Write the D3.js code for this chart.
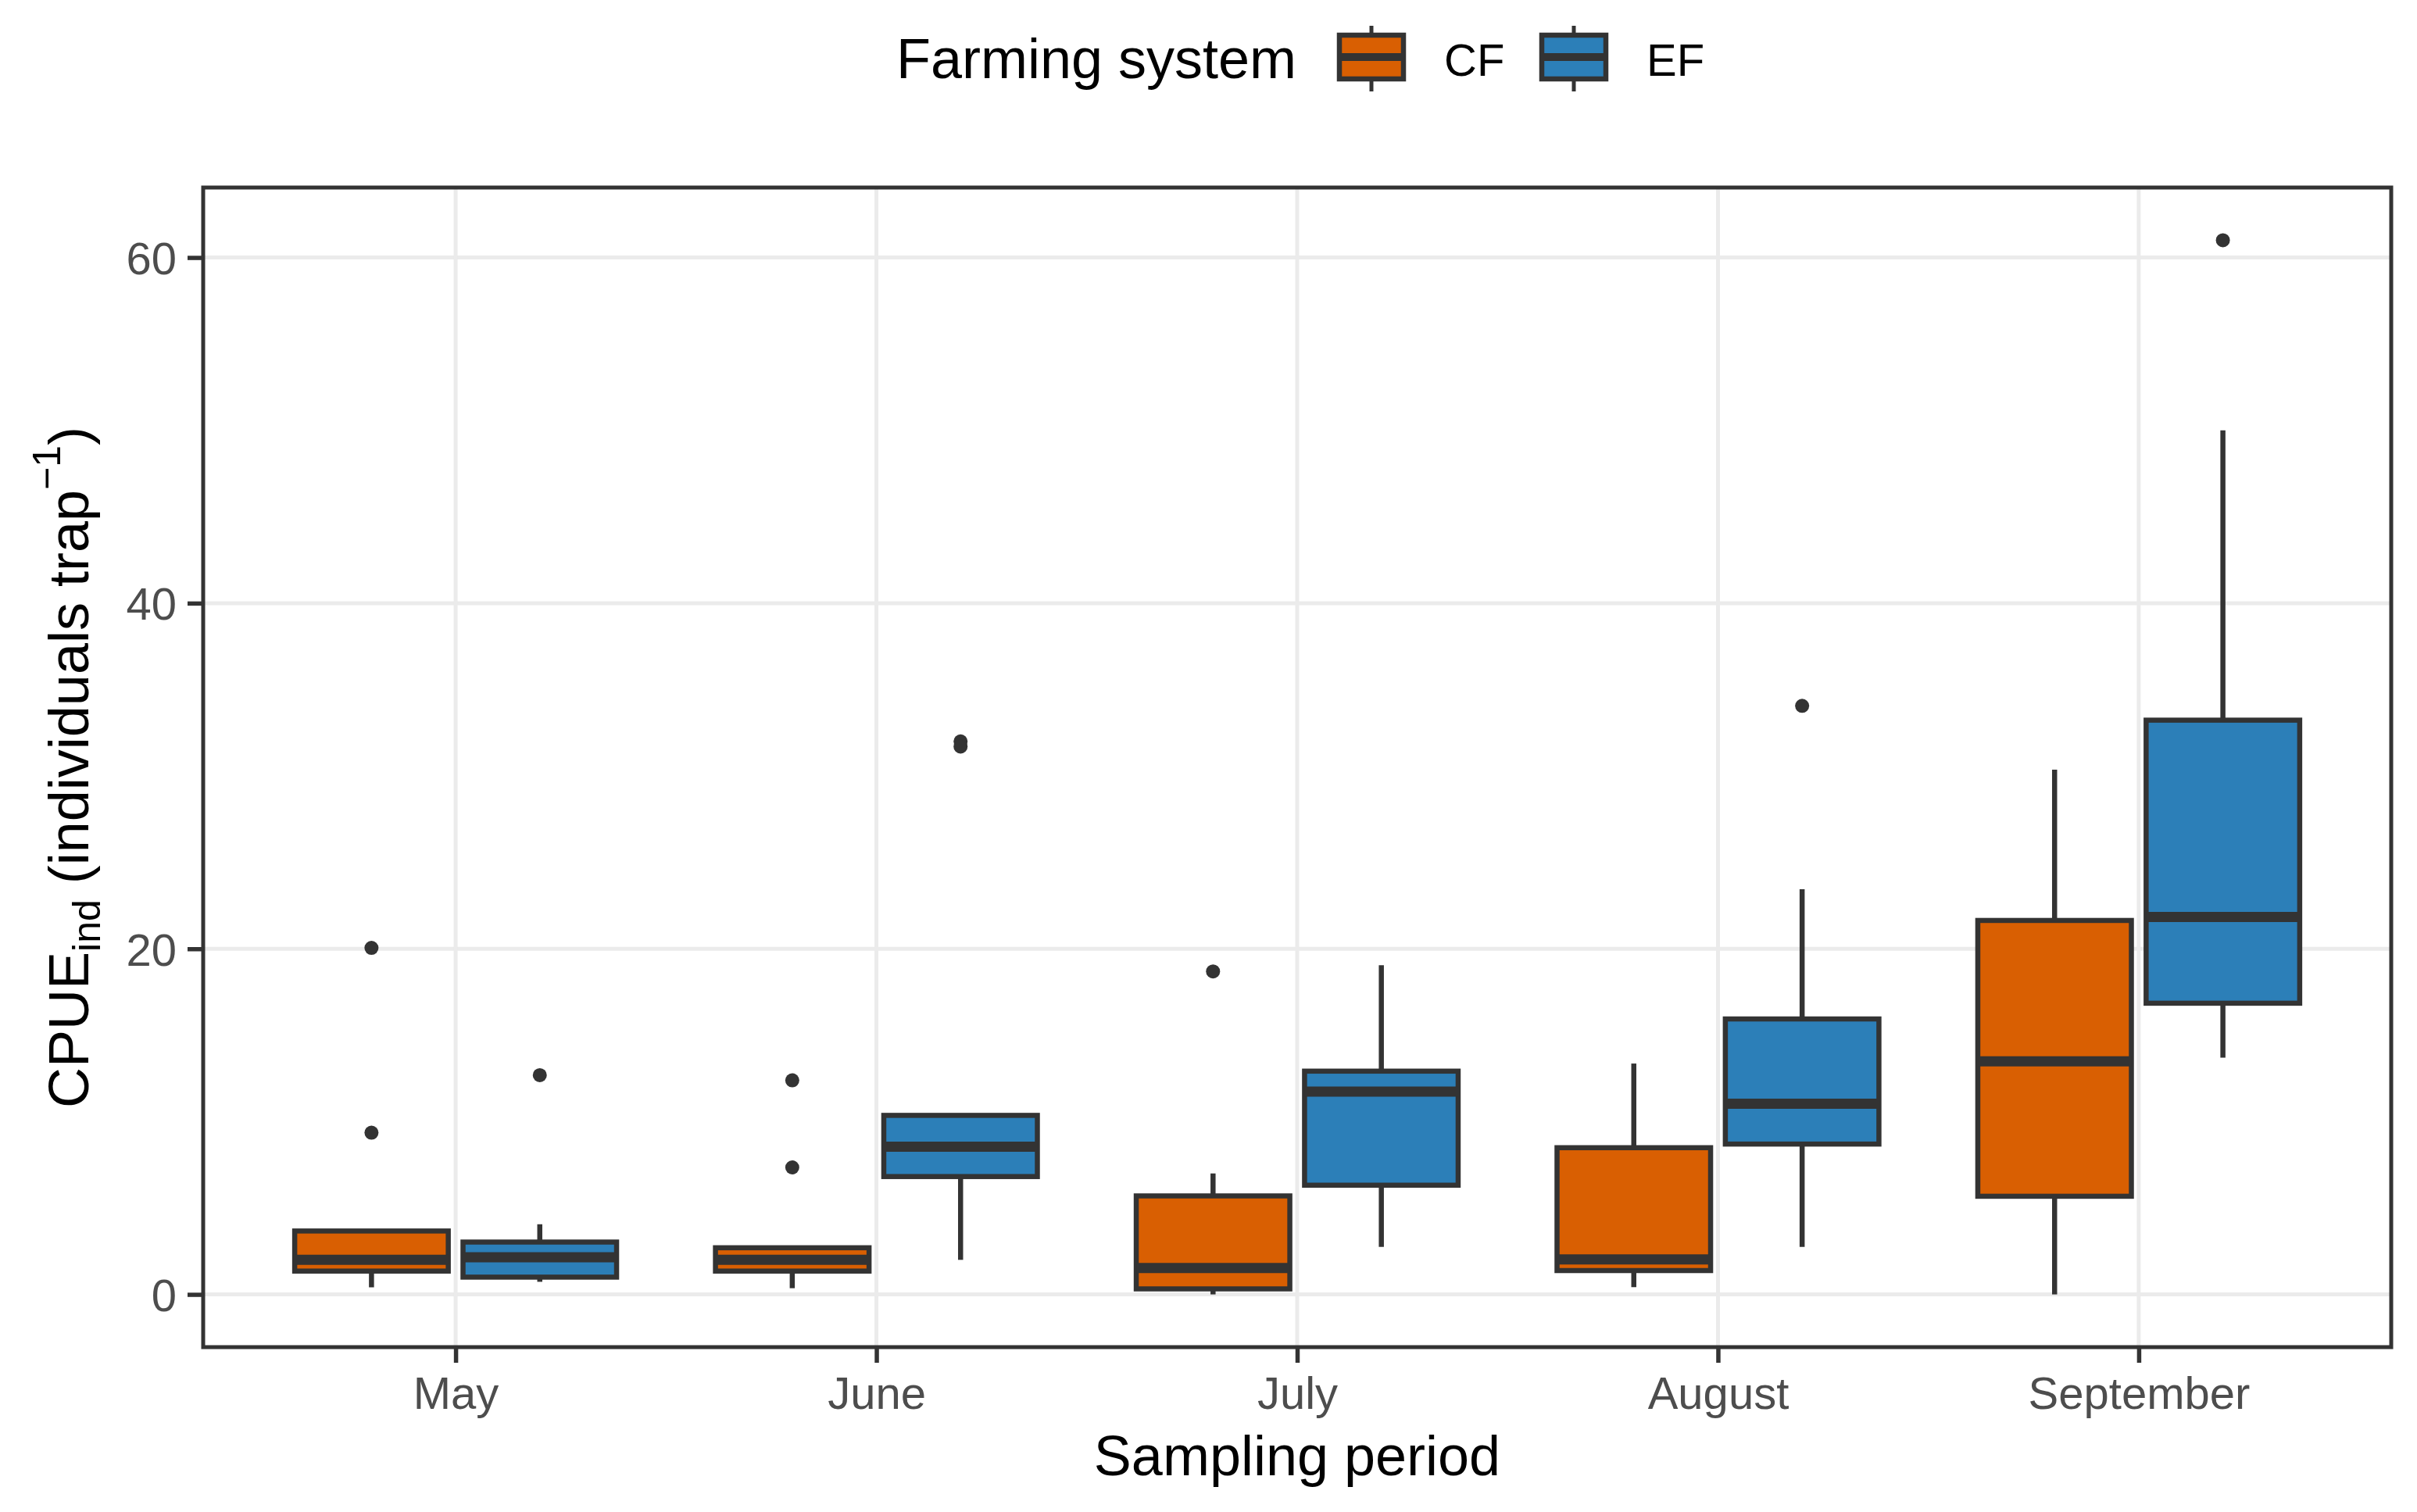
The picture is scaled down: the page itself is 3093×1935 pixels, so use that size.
<!DOCTYPE html>
<html>
<head>
<meta charset="utf-8">
<script src="https://cdn.jsdelivr.net/npm/d3@7"></script>
<style>
  body { margin: 0; background: #fff; }
  svg { display: block; font-family: "Liberation Sans", Arial, sans-serif; }
</style>
</head>
<body>
<div class="visHolder"></div>
<script>
// values
const months = ['May', 'June', 'July', 'August', 'September'];
const systems = ['CF', 'EF'];
const colors = ['#D95F02', '#2C7FB8'];
const yTicks = [0, 20, 40, 60];

const cfLower  = [0.41, 0.36, 0.0, 0.42, 0.0];
const cfQ1     = [1.35, 1.35, 0.32, 1.38, 5.68];
const cfMedian = [2.0, 2.0, 1.53, 2.03, 13.49];
const cfQ3     = [3.67, 2.7, 5.7, 8.49, 21.64];
const cfUpper  = [3.67, 2.7, 7.0, 13.36, 30.36];
const cfOutliers = [[20.05, 9.36], [12.39, 7.35], [18.69], [], []];

const efLower  = [0.73, 2.0, 2.75, 2.75, 13.7];
const efQ1     = [1.0, 6.82, 6.32, 8.7, 16.85];
const efMedian = [2.15, 8.55, 11.73, 11.03, 21.84];
const efQ3     = [3.03, 10.36, 12.92, 15.94, 33.23];
const efUpper  = [4.06, 10.36, 19.05, 23.45, 50.0];
const efOutliers = [[12.69], [32.0, 31.7], [], [34.06], [61.0]];

const w = 3093, h = 1935;
const panel = {left: 260, right: 3060, top: 240, bottom: 1724};
const ink = '#333333';
const lw = 5;      // panel / grid lines
const bw = 6.5;    // box lines

// one record per box
const boxes = [];
months.forEach((m, i) => {
  boxes.push({month: m, sys: 'CF', lower: cfLower[i], q1: cfQ1[i], median: cfMedian[i], q3: cfQ3[i], upper: cfUpper[i], out: cfOutliers[i]});
  boxes.push({month: m, sys: 'EF', lower: efLower[i], q1: efQ1[i], median: efMedian[i], q3: efQ3[i], upper: efUpper[i], out: efOutliers[i]});
});

const svg = d3.select('.visHolder')
  .append('svg')
  .attr('width', w)
  .attr('height', h)
  .attr('viewBox', `0 0 ${w} ${h}`);

const xScale = d3.scalePoint()
  .domain(months)
  .range([panel.left, panel.right])
  .padding(0.6);

const step = xScale.step();

const dodge = d3.scaleBand()
  .domain(systems)
  .range([-0.4 * step, 0.4 * step]);

const boxW = 0.365 * step;

const yScale = d3.scaleLinear()
  .domain([-3.05, 64.05])
  .range([panel.bottom, panel.top]);

const color = d3.scaleOrdinal().domain(systems).range(colors);

// grid
svg.append('g')
  .selectAll('line')
  .data(yTicks)
  .enter()
  .append('line')
  .attr('x1', panel.left).attr('x2', panel.right)
  .attr('y1', d => yScale(d)).attr('y2', d => yScale(d))
  .attr('stroke', '#EBEBEB')
  .attr('stroke-width', lw);

svg.append('g')
  .selectAll('line')
  .data(months)
  .enter()
  .append('line')
  .attr('x1', d => xScale(d)).attr('x2', d => xScale(d))
  .attr('y1', panel.top).attr('y2', panel.bottom)
  .attr('stroke', '#EBEBEB')
  .attr('stroke-width', lw);

// boxplots
const cx = d => xScale(d.month) + dodge(d.sys) + dodge.bandwidth() / 2;

const g = svg.append('g')
  .selectAll('g')
  .data(boxes)
  .enter()
  .append('g');

g.append('line')
  .attr('x1', cx).attr('x2', cx)
  .attr('y1', d => yScale(d.upper)).attr('y2', d => yScale(d.q3))
  .attr('stroke', ink).attr('stroke-width', bw);

g.append('line')
  .attr('x1', cx).attr('x2', cx)
  .attr('y1', d => yScale(d.q1)).attr('y2', d => yScale(d.lower))
  .attr('stroke', ink).attr('stroke-width', bw);

g.append('rect')
  .attr('x', d => cx(d) - boxW / 2)
  .attr('width', boxW)
  .attr('y', d => yScale(d.q3))
  .attr('height', d => yScale(d.q1) - yScale(d.q3))
  .attr('fill', d => color(d.sys))
  .attr('stroke', ink)
  .attr('stroke-width', bw);

g.append('line')
  .attr('x1', d => cx(d) - boxW / 2).attr('x2', d => cx(d) + boxW / 2)
  .attr('y1', d => yScale(d.median)).attr('y2', d => yScale(d.median))
  .attr('stroke', ink).attr('stroke-width', 2 * bw);

g.selectAll('circle')
  .data(d => d.out.map(v => ({x: cx(d), v: v})))
  .enter()
  .append('circle')
  .attr('cx', d => d.x)
  .attr('cy', d => yScale(d.v))
  .attr('r', 9)
  .attr('fill', ink);

// panel border
svg.append('rect')
  .attr('x', panel.left).attr('y', panel.top)
  .attr('width', panel.right - panel.left)
  .attr('height', panel.bottom - panel.top)
  .attr('fill', 'none')
  .attr('stroke', ink)
  .attr('stroke-width', lw);

// axes
const xAxis = d3.axisBottom(xScale).tickSize(20).tickPadding(12);
const xg = svg.append('g')
  .attr('transform', `translate(0, ${panel.bottom})`)
  .call(xAxis);

const yAxis = d3.axisLeft(yScale).tickValues(yTicks).tickSize(20).tickPadding(14);
const yg = svg.append('g')
  .attr('transform', `translate(${panel.left}, 0)`)
  .call(yAxis);

[xg, yg].forEach(a => {
  a.select('.domain').remove();
  a.selectAll('.tick line').attr('stroke', ink).attr('stroke-width', lw + 0.5);
  a.selectAll('.tick text')
    .attr('fill', '#4D4D4D')
    .attr('font-size', 58)
    .attr('font-family', '"Liberation Sans", Arial, sans-serif');
});
xg.selectAll('.tick text').attr('dy', 0).attr('y', 79);
yg.selectAll('.tick text').attr('dy', '0.36em');

// axis titles
svg.append('text')
  .attr('x', (panel.left + panel.right) / 2)
  .attr('y', 1888)
  .attr('text-anchor', 'middle')
  .attr('font-size', 72)
  .attr('fill', '#000')
  .text('Sampling period');

const yt = svg.append('text')
  .attr('transform', `translate(113, ${(panel.top + panel.bottom) / 2}) rotate(-90)`)
  .attr('text-anchor', 'middle')
  .attr('font-size', 72)
  .attr('fill', '#000');
yt.append('tspan').text('CPUE');
yt.append('tspan').attr('dy', 15).attr('font-size', 50).text('ind');
yt.append('tspan').attr('dy', -15).text(' (individuals trap');
yt.append('tspan').attr('dy', -36).attr('font-size', 50).text('\u22121');
yt.append('tspan').attr('dy', 36).text(')');

// legend
const legend = svg.append('g');
legend.append('text')
  .attr('x', 1147)
  .attr('y', 100)
  .attr('font-size', 72)
  .attr('fill', '#000')
  .text('Farming system');

const key = legend.selectAll('.key')
  .data(systems)
  .enter()
  .append('g')
  .attr('class', 'key')
  .attr('transform', (d, i) => `translate(${1714 + i * 259}, 0)`);

key.append('line')
  .attr('x1', 41).attr('x2', 41).attr('y1', 33).attr('y2', 117)
  .attr('stroke', ink).attr('stroke-width', lw);
key.append('rect')
  .attr('x', 0).attr('y', 45).attr('width', 82).attr('height', 56)
  .attr('fill', d => color(d))
  .attr('stroke', ink).attr('stroke-width', bw);
key.append('line')
  .attr('x1', 0).attr('x2', 82).attr('y1', 73).attr('y2', 73)
  .attr('stroke', ink).attr('stroke-width', 2 * lw);
key.append('text')
  .attr('x', 134)
  .attr('y', 97)
  .attr('font-size', 58)
  .attr('fill', '#000')
  .text(d => d);
</script>
</body>
</html>
